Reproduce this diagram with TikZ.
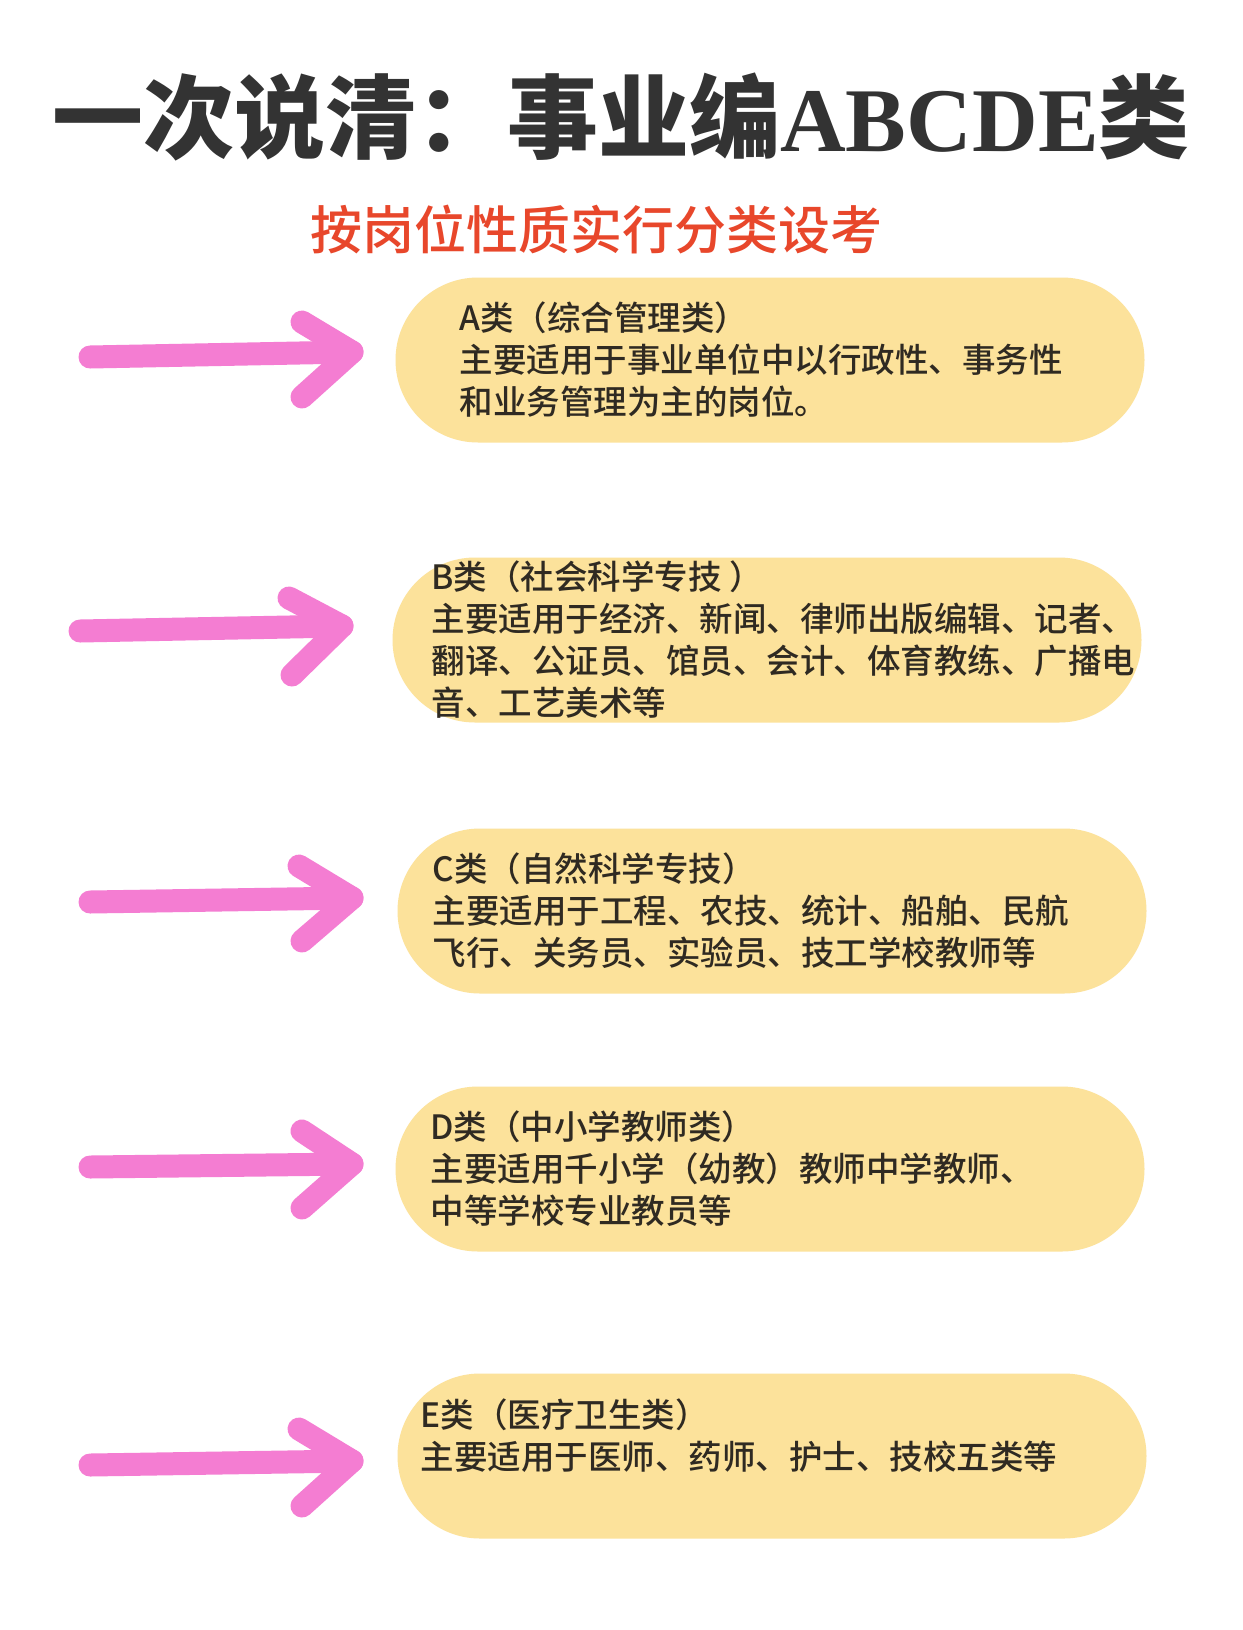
\documentclass[tikz,border=0pt]{standalone}
\usepackage{fontspec}
\usepackage{tikz}
\usetikzlibrary{shapes.misc}
\usetikzlibrary{positioning}

\newfontfamily\cjk{Noto Sans CJK SC Medium}[BoldFont={Noto Sans CJK SC Black}]
\newfontfamily\latinserif{Liberation Serif}
\definecolor{titlegray}{HTML}{333333}
\definecolor{subred}{HTML}{E8472B}
\definecolor{pillyellow}{HTML}{FCE29B}
\definecolor{textdark}{HTML}{2F2A22}
\definecolor{arrowpink}{HTML}{F47DD2}

\begin{document}
\begin{tikzpicture}[x=1pt, y=-1pt,
        title/.style={inner sep=0pt, text=titlegray, font=\cjk\bfseries\fontsize{91}{91}\selectfont},
        subtitle/.style={inner sep=0pt, text=subred, font=\cjk\fontsize{52}{52}\selectfont},
        pill/.style={rounded rectangle, fill=pillyellow, minimum width=749pt, minimum height=165pt, inner sep=0pt},
        txt/.style={anchor=west, align=left, inner sep=0pt, text=textdark, font=\cjk\fontsize{33.5}{42}\selectfont},
        marker/.style={draw=arrowpink, line width=23pt, line cap=round, line join=round}
      ]
        \useasboundingbox[fill=white] (0,0) rectangle (1242,1630);

        \node[title]     (title)     at (621,117)     {一次说清：事业编{\latinserif\bfseries ABCDE}类};
        \node[subtitle]  (subtitle)  at (596,230)     {按岗位性质实行分类设考};

        \node[pill]  (pillA)  at (770,360)     {};
        \node[pill]  (pillB)  at (767,640)     {};
        \node[pill]  (pillC)  at (772,911)     {};
        \node[pill]  (pillD)  at (770,1169)    {};
        \node[pill]  (pillE)  at (772,1456)    {};

        \node[txt]  (txtA)  at ([xshift=64pt]pillA.west)              {A类（综合管理类）\\主要适用于事业单位中以行政性、事务性\\和业务管理为主的岗位。};
        \node[txt]  (txtB)  at ([xshift=39pt]pillB.west)              {B类（社会科学专技 ）\\主要适用于经济、新闻、律师出版编辑、记者、\\翻译、公证员、馆员、会计、体育教练、广播电\\音、工艺美术等};
        \node[txt]  (txtC)  at ([xshift=35pt]pillC.west)              {C类（自然科学专技）\\主要适用于工程、农技、统计、船舶、民航\\飞行、关务员、实验员、技工学校教师等};
        \node[txt]  (txtD)  at ([xshift=35pt]pillD.west)              {D类（中小学教师类）\\主要适用千小学（幼教）教师中学教师、\\中等学校专业教员等};
        \node[txt]  (txtE)  at ([xshift=23pt, yshift=20pt]pillE.west) {E类（医疗卫生类）\\主要适用于医师、药师、护士、技校五类等};

        % hand drawn arrows
        \coordinate (tailA) at (90,357);   \coordinate (tipA) at (352,352);
        \coordinate (upA)   at (302,322);  \coordinate (lowA) at (302,397);
        \draw[marker] (tailA) -- (tipA);
        \draw[marker] (upA) -- (tipA) -- (lowA);

        \coordinate (tailB) at (80,631);   \coordinate (tipB) at (342,626);
        \coordinate (upB)   at (289,598);  \coordinate (lowB) at (292,675);
        \draw[marker] (tailB) -- (tipB);
        \draw[marker] (upB) -- (tipB) -- (lowB);

        \coordinate (tailC) at (90,902);   \coordinate (tipC) at (352,898);
        \coordinate (upC)   at (299,866);  \coordinate (lowC) at (302,941);
        \draw[marker] (tailC) -- (tipC);
        \draw[marker] (upC) -- (tipC) -- (lowC);

        \coordinate (tailD) at (90,1167);  \coordinate (tipD) at (352,1164);
        \coordinate (upD)   at (302,1131); \coordinate (lowD) at (302,1208);
        \draw[marker] (tailD) -- (tipD);
        \draw[marker] (upD) -- (tipD) -- (lowD);

        \coordinate (tailE) at (90,1465);  \coordinate (tipE) at (352,1461);
        \coordinate (upE)   at (299,1429); \coordinate (lowE) at (302,1506);
        \draw[marker] (tailE) -- (tipE);
        \draw[marker] (upE) -- (tipE) -- (lowE);
      \end{tikzpicture}
\end{document}
